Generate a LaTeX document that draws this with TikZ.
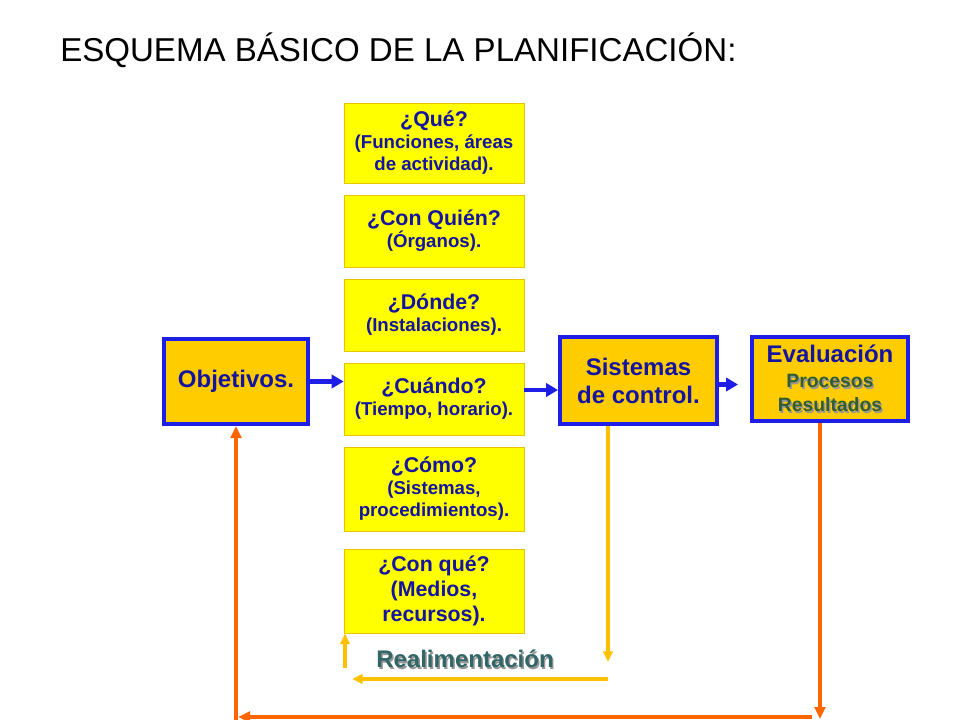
\documentclass[tikz,border=0pt]{standalone}
\usepackage{fontspec}
\setmainfont{Liberation Sans}
\usetikzlibrary{arrows.meta}

\definecolor{inkblue}{RGB}{20,20,160}
\definecolor{edgeblue}{RGB}{30,30,230}
\definecolor{gold}{RGB}{255,204,0}
\definecolor{lemon}{RGB}{255,255,0}
\definecolor{lemonedge}{RGB}{232,196,0}
\definecolor{feedyellow}{RGB}{255,192,0}
\definecolor{feedorange}{RGB}{255,102,0}
\definecolor{tealtext}{RGB}{51,102,102}
\definecolor{greentext}{RGB}{51,92,51}
\definecolor{shadegray}{RGB}{150,150,150}

\newcommand{\qline}[1]{{\fontsize{16}{19}\selectfont #1}}
\newcommand{\shadowtext}[1]{\rlap{\kern1.1pt\raisebox{-1.1pt}{\textcolor{shadegray}{#1}}}#1}

\begin{document}
\begin{tikzpicture}[x=0.75pt, y=-0.75pt, node distance=63pt,
    ask/.style={rectangle, draw=lemonedge, fill=lemon, line width=0.6pt, minimum width=135pt,
      text=inkblue, align=center, inner sep=2pt, font=\bfseries\fontsize{14}{16.5}\selectfont},
    goal/.style={rectangle, draw=edgeblue, fill=gold, line width=3pt, text=inkblue,
      align=center, inner sep=2pt, font=\bfseries\fontsize{18}{21}\selectfont},
    flow/.style={-{Triangle[length=9pt,width=10pt]}, edgeblue, line width=3.3pt},
    yellowback/.style={-{Triangle[length=8pt,width=7pt]}, feedyellow, line width=2.7pt},
    orangeback/.style={-{Triangle[length=9pt,width=8pt]}, feedorange, line width=3.2pt}]
  \useasboundingbox [fill=white] (0,0) rectangle (960,720);
  \node [anchor=base west, inner sep=0pt, font=\fontsize{24.8}{28}\selectfont] (title) at (60,62) {ESQUEMA BÁSICO DE LA PLANIFICACIÓN:};
  \node [goal, minimum width=108pt, minimum height=63.75pt] (objetivos) at (236,381.5) {Objetivos.};
  \node [ask, minimum height=54pt] (cuando) at (434,399) {\qline{¿Cuándo?}\\(Tiempo, horario).};
  \node [ask, minimum height=54pt] (donde) [above of=cuando] {\qline{¿Dónde?}\\(Instalaciones).};
  \node [ask, minimum height=54pt] (conquien) [above of=donde] {\qline{¿Con Quién?}\\(Órganos).};
  \node [ask, minimum height=60pt, node distance=66pt] (que) [above of=conquien] {\qline{¿Qué?}\\(Funciones, áreas\\de actividad).};
  \node [ask, minimum height=63pt, node distance=67.5pt] (como) [below of=cuando] {\qline{¿Cómo?}\\(Sistemas,\\procedimientos).};
  \node [ask, minimum height=63pt, node distance=76.5pt, font=\bfseries\fontsize{16}{19}\selectfont] (conque) [below of=como] {¿Con qué?\\(Medios,\\recursos).};
  \node [goal, minimum width=117.75pt, minimum height=65.25pt] (sistemas) at (638.5,380.5) {Sistemas\\de control.};
  \node [goal, minimum width=117pt, minimum height=63pt] (evaluacion) at (830,379)
    {Evaluación\\[-2pt]{\fontsize{14.5}{16}\selectfont\color{greentext}\shadowtext{Procesos}}\\[-3pt]{\fontsize{14.5}{16}\selectfont\color{greentext}\shadowtext{Resultados}}};
  \node [text=tealtext, font=\bfseries\fontsize{18}{21}\selectfont] (realim) at (465,660) {\shadowtext{Realimentación}};
  \coordinate (s1) at (608,662);
  \coordinate (s2) at (608,679);
  \coordinate (s3) at (352,679);
  \coordinate (s4) at (345,668);
  \coordinate (e1) at (820,719);
  \coordinate (e2) at (812,717);
  \coordinate (e3) at (238,717);
  \coordinate (e4) at (236,721);
  \draw [flow] (objetivos.east) -- (objetivos.east -| cuando.west);
  \draw [flow] ([yshift=6.75pt]cuando.east) -- ([yshift=6.75pt]cuando.east -| sistemas.west);
  \draw [flow] ([yshift=-3pt]sistemas.east) -- ([xshift=-9pt,yshift=-3pt]sistemas.east -| evaluacion.west);
  \draw [yellowback] (sistemas.south -| s1) -- (s1);
  \draw [yellowback] (s2) -- (s3);
  \draw [yellowback] (s4) -- (s4 |- conque.south);
  \draw [orangeback] (evaluacion.south -| e1) -- (e1);
  \draw [orangeback] (e2) -- (e3);
  \draw [orangeback] (e4) -- (objetivos.south);
\end{tikzpicture}
\end{document}
